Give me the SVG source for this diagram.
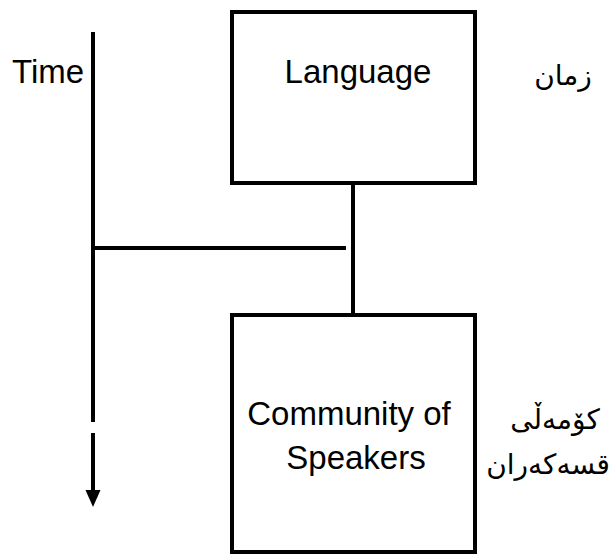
<svg xmlns="http://www.w3.org/2000/svg" width="615" height="554" viewBox="0 0 615 554">
<defs>
<style>
.box{fill:none;stroke:#000;stroke-width:4}
.ln{fill:none;stroke:#000;stroke-width:4}
.en{font-family:"Liberation Sans",Arial,sans-serif;font-size:33px;fill:#000}
.ku{font-family:"DejaVu Sans","Noto Sans",sans-serif;font-size:28px;fill:#000;direction:rtl;unicode-bidi:embed}
</style>
</defs>
<rect width="615" height="554" fill="#fff"/>
<g id="connectors">
<line class="ln" x1="93" y1="32" x2="93" y2="422"/>
<line class="ln" x1="93" y1="433" x2="93" y2="490"/>
<path d="M85.5,490 L100.5,490 L93,507 Z" fill="#000"/>
<line class="ln" x1="93" y1="248" x2="346" y2="248"/>
<line class="ln" x1="353" y1="183" x2="353" y2="315"/>
</g>
<g id="time-label">
<text class="en" x="12" y="83">Time</text>
</g>
<g id="language">
<rect class="box" x="232" y="12" width="243" height="171"/>
<text class="en" x="358" y="83" text-anchor="middle">Language</text>
</g>
<g id="community">
<rect class="box" x="232" y="315" width="243" height="237"/>
<text class="en" x="349" y="425" text-anchor="middle" font-size="34">Community of</text>
<text class="en" x="356" y="469" text-anchor="middle" font-size="34">Speakers</text>
</g>
<g id="language-ku">
<text class="ku" x="563" y="85" text-anchor="middle" font-size="30">زمان</text>
</g>
<g id="community-ku">
<text class="ku" x="555" y="429" text-anchor="middle">کۆمەڵی</text>
<text class="ku" x="548" y="474" text-anchor="middle">قسەکەران</text>
</g>
</svg>
